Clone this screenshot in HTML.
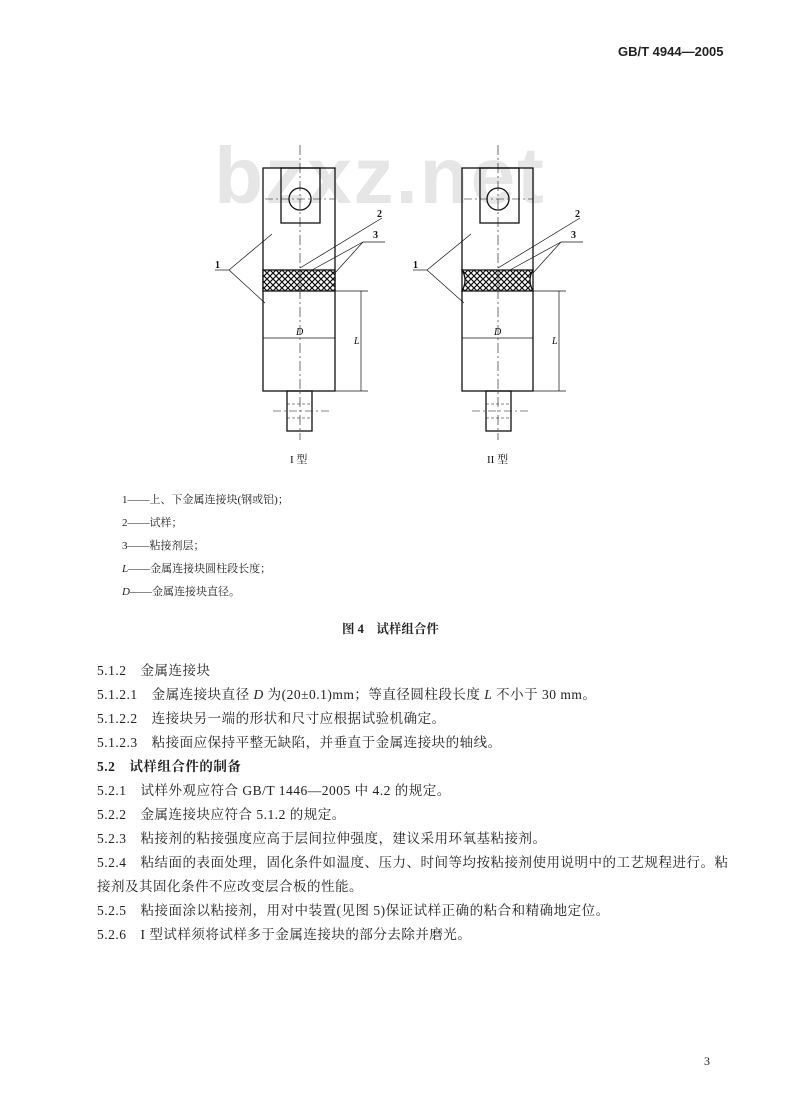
<!DOCTYPE html>
<html><head><meta charset="utf-8"><style>
body{margin:0;background:#fff;}
#p{position:relative;width:800px;height:1120px;overflow:hidden;background:#fff;font-family:"Liberation Serif","Noto Serif CJK SC","Noto Sans CJK SC",serif;color:#222;}
.t{position:absolute;white-space:nowrap;}
.leg{font-size:11px;left:122px;}
.b{font-size:13.5px;left:97px;letter-spacing:0.5px;}
</style></head><body><div id="p">
<div class="t" style="left:618px;top:44px;font-size:13px;font-weight:bold;font-family:'Liberation Sans',sans-serif;">GB/T 4944—2005</div>
<svg width="800" height="480" style="position:absolute;left:0;top:0">
<defs>
<pattern id="h" width="6" height="6" patternUnits="userSpaceOnUse">
<rect width="6" height="6" fill="#fff"/>
<path d="M0 0L6 6M6 0L0 6" stroke="#111" stroke-width="1.2"/>
</pattern>
</defs>
<text x="380" y="203" font-family="Liberation Sans,sans-serif" font-weight="bold" font-size="80" fill="#e6e6e6" text-anchor="middle" letter-spacing="2">bzxz.net</text>
<g stroke="#111" fill="none" stroke-width="1.3">
<!-- left -->
<rect x="263" y="168" width="72" height="223"/>
<rect x="281" y="168" width="39" height="55"/>
<circle cx="300" cy="199" r="11"/>
<rect x="263" y="270" width="72" height="21" fill="url(#h)"/>
<line x1="263" y1="338" x2="335" y2="338" stroke-width="0.8"/>
<rect x="287" y="391" width="25" height="40"/>
<line x1="300" y1="145" x2="300" y2="440" stroke-width="0.6" stroke-dasharray="10,3,2,3"/>
<line x1="265" y1="199" x2="335" y2="199" stroke-width="0.6" stroke-dasharray="8,3,2,3"/>
<line x1="273" y1="411" x2="330" y2="411" stroke-width="0.6" stroke-dasharray="8,3,2,3"/>
<line x1="287" y1="404" x2="312" y2="404" stroke-width="0.6" stroke-dasharray="3,2"/>
<line x1="287" y1="418" x2="312" y2="418" stroke-width="0.6" stroke-dasharray="3,2"/>
<line x1="335" y1="291" x2="368" y2="291" stroke-width="0.7"/>
<line x1="335" y1="391" x2="368" y2="391" stroke-width="0.7"/>
<line x1="361" y1="291" x2="361" y2="391" stroke-width="0.7"/>
<line x1="215" y1="270" x2="229" y2="270" stroke-width="0.7"/>
<line x1="229" y1="270" x2="272" y2="234" stroke-width="0.7"/>
<line x1="229" y1="270" x2="265" y2="303" stroke-width="0.7"/>
<line x1="300" y1="268" x2="382" y2="218" stroke-width="0.7"/>
<line x1="363" y1="242" x2="385" y2="242" stroke-width="0.7"/>
<line x1="363" y1="242" x2="312" y2="270" stroke-width="0.7"/>
<line x1="363" y1="242" x2="335" y2="273" stroke-width="0.7"/>
<!-- right -->
<rect x="462" y="168" width="71" height="223"/>
<rect x="480" y="168" width="39" height="55"/>
<circle cx="498" cy="199" r="11"/>
<path d="M462 270H533Q527 280 533 291H462Q468 280 462 270Z" fill="url(#h)"/>
<line x1="462" y1="338" x2="533" y2="338" stroke-width="0.8"/>
<rect x="486" y="391" width="25" height="40"/>
<line x1="498" y1="145" x2="498" y2="440" stroke-width="0.6" stroke-dasharray="10,3,2,3"/>
<line x1="464" y1="199" x2="533" y2="199" stroke-width="0.6" stroke-dasharray="8,3,2,3"/>
<line x1="472" y1="411" x2="528" y2="411" stroke-width="0.6" stroke-dasharray="8,3,2,3"/>
<line x1="486" y1="404" x2="511" y2="404" stroke-width="0.6" stroke-dasharray="3,2"/>
<line x1="486" y1="418" x2="511" y2="418" stroke-width="0.6" stroke-dasharray="3,2"/>
<line x1="533" y1="291" x2="566" y2="291" stroke-width="0.7"/>
<line x1="533" y1="391" x2="566" y2="391" stroke-width="0.7"/>
<line x1="559" y1="291" x2="559" y2="391" stroke-width="0.7"/>
<line x1="413" y1="270" x2="427" y2="270" stroke-width="0.7"/>
<line x1="427" y1="270" x2="471" y2="234" stroke-width="0.7"/>
<line x1="427" y1="270" x2="464" y2="303" stroke-width="0.7"/>
<line x1="498" y1="268" x2="580" y2="218" stroke-width="0.7"/>
<line x1="561" y1="242" x2="583" y2="242" stroke-width="0.7"/>
<line x1="561" y1="242" x2="510" y2="270" stroke-width="0.7"/>
<line x1="561" y1="242" x2="533" y2="273" stroke-width="0.7"/>
</g>
<g font-family="Liberation Serif,serif" font-size="10" fill="#111">
<text x="215" y="268" font-weight="bold">1</text>
<text x="377" y="217" font-weight="bold">2</text>
<text x="373" y="238" font-weight="bold">3</text>
<text x="296" y="335" font-style="italic">D</text>
<text x="354" y="344" font-style="italic">L</text>
<text x="413" y="268" font-weight="bold">1</text>
<text x="575" y="217" font-weight="bold">2</text>
<text x="571" y="238" font-weight="bold">3</text>
<text x="494" y="335" font-style="italic">D</text>
<text x="552" y="344" font-style="italic">L</text>
</g>
<g font-family="Liberation Serif,Noto Serif CJK SC,serif" font-size="11" fill="#111">
<text x="290" y="463">I 型</text>
<text x="487" y="463">II 型</text>
</g>
</svg>
<div class="t leg" style="top:491px">1——上、下金属连接块(钢或铝)；</div>
<div class="t leg" style="top:514px">2——试样；</div>
<div class="t leg" style="top:537px">3——粘接剂层；</div>
<div class="t leg" style="top:560px"><i>L</i>——金属连接块圆柱段长度；</div>
<div class="t leg" style="top:583px"><i>D</i>——金属连接块直径。</div>
<div class="t" style="left:342px;top:619px;font-size:12.5px;font-weight:bold;">图 4　试样组合件</div>
<div class="t b" style="top:659px">5.1.2　金属连接块</div>
<div class="t b" style="top:683px">5.1.2.1　金属连接块直径 <i>D</i> 为(20±0.1)mm；等直径圆柱段长度 <i>L</i> 不小于 30 mm。</div>
<div class="t b" style="top:707px">5.1.2.2　连接块另一端的形状和尺寸应根据试验机确定。</div>
<div class="t b" style="top:731px">5.1.2.3　粘接面应保持平整无缺陷，并垂直于金属连接块的轴线。</div>
<div class="t b" style="top:755px;font-weight:bold">5.2　试样组合件的制备</div>
<div class="t b" style="top:779px">5.2.1　试样外观应符合 GB/T 1446—2005 中 4.2 的规定。</div>
<div class="t b" style="top:803px">5.2.2　金属连接块应符合 5.1.2 的规定。</div>
<div class="t b" style="top:827px">5.2.3　粘接剂的粘接强度应高于层间拉伸强度，建议采用环氧基粘接剂。</div>
<div class="t b" style="top:851px">5.2.4　粘结面的表面处理，固化条件如温度、压力、时间等均按粘接剂使用说明中的工艺规程进行。粘</div>
<div class="t b" style="top:875px">接剂及其固化条件不应改变层合板的性能。</div>
<div class="t b" style="top:899px">5.2.5　粘接面涂以粘接剂，用对中装置(见图 5)保证试样正确的粘合和精确地定位。</div>
<div class="t b" style="top:923px">5.2.6　I 型试样须将试样多于金属连接块的部分去除并磨光。</div>
<div class="t" style="left:704px;top:1054px;font-size:12px;">3</div>
</div></body></html>
